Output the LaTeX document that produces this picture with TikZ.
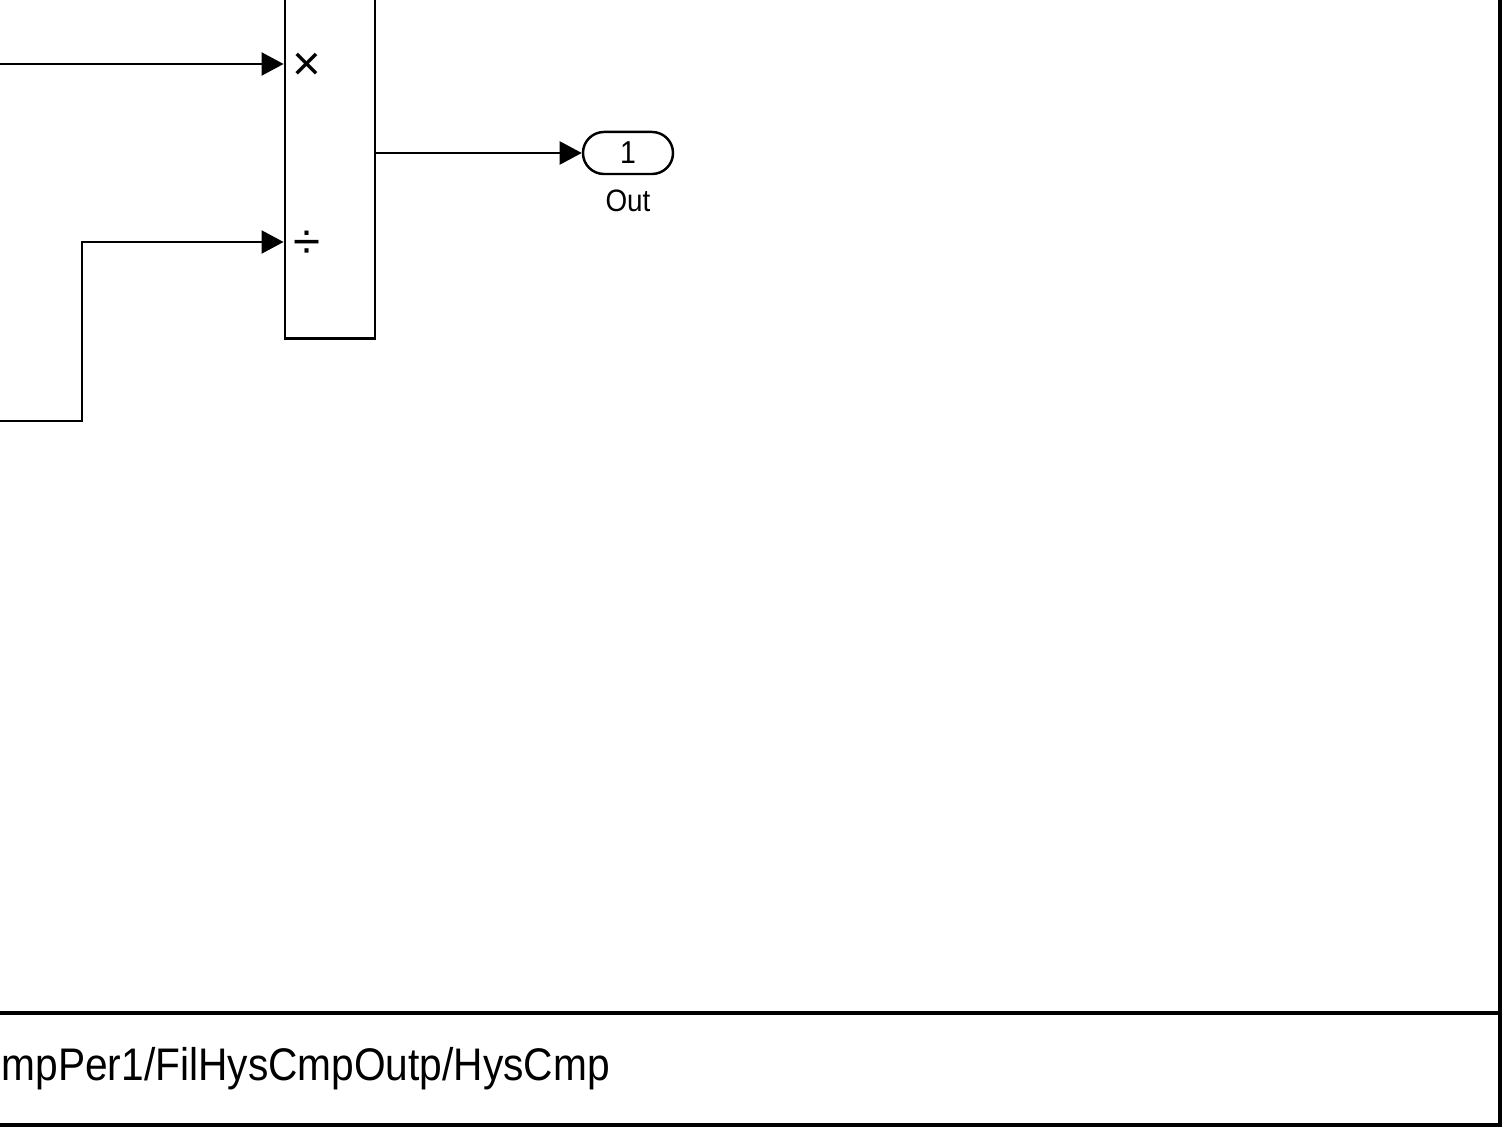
\documentclass[tikz,border=0pt]{standalone}
\usepackage{fontspec}
\setmainfont{Liberation Sans}
\usetikzlibrary{positioning,arrows.meta}
\tikzset{
  block/.style={draw, line width=0.8pt, minimum width=0.9cm, minimum height=3.7cm, inner sep=0pt},
  outport/.style={draw, line width=0.7pt, rounded corners=0.21cm, minimum width=0.9cm,
                  minimum height=0.42cm, inner sep=0pt, font=\fontsize{9}{10}\selectfont},
  signal/.style={-{Triangle[length=0.22cm, width=0.23cm]}, line width=0.6pt},
  portsign/.style={font=\fontsize{14}{14}\selectfont, inner sep=0pt},
  frame/.style={line width=1.1pt},
}

\begin{document}
\begin{tikzpicture}[x=0.01cm, y=-0.01cm]
  \useasboundingbox (0,0) rectangle (1506,1131);
  \clip (0,0) rectangle (1506,1131);

  % Product block
  \node[block] (Prod) at (330,153) {};
  \node[portsign] (Mul) at (307,67) {×};
  \node[portsign] (Div) at (307,245) {÷};

  % Outport
  \node[outport] (Out) at (628,153) {\scalebox{0.9}[1]{1}};
  \node[font=\fontsize{8.8}{10}\selectfont] (OutLbl) at (628,201) {\scalebox{0.9}[1]{Out}};

  % Signals
  \coordinate (InA) at (0,64);
  \coordinate (InB) at (0,421);
  \draw[signal] (InA) -- (InA -| Prod.west);
  \draw[signal] (InB) -- ++(82,0) |- (Prod.west |- 0,242);
  \draw[signal] (Prod.east) -- (Out.west);

  % Frame and path bar
  \draw[frame] (1500,0) -- (1500,1125) -- (0,1125);
  \draw[frame] (0,1013) -- (1500,1013);
  \node[anchor=base west, inner sep=0pt, font=\fontsize{13}{13}\selectfont] (Path) at (1,1080)
    {\scalebox{0.89}[1]{mpPer1/FilHysCmpOutp/HysCmp}};
\end{tikzpicture}
\end{document}
